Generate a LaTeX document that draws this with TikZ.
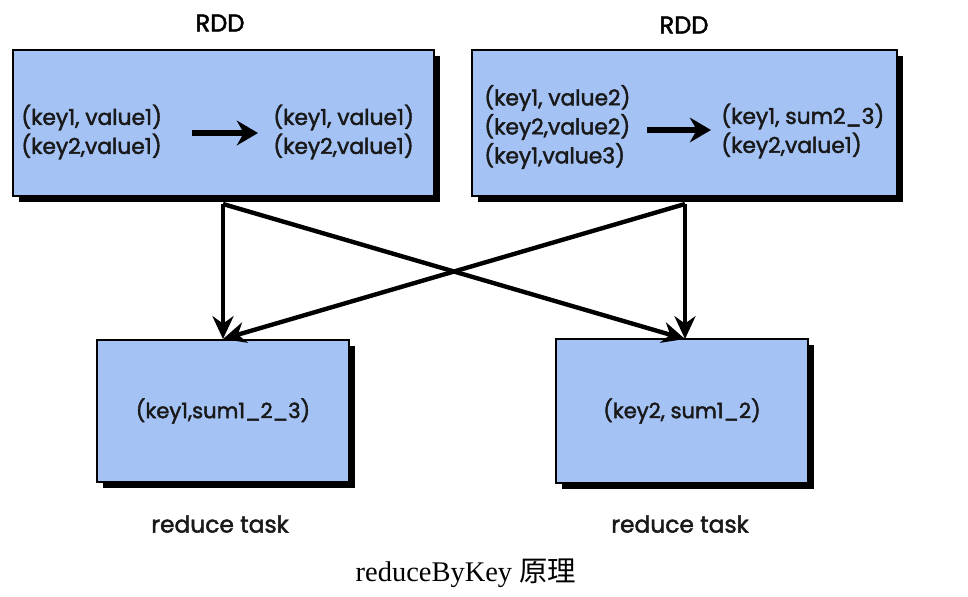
\documentclass[tikz,border=0pt]{standalone}
\usepackage{fontspec}
\setmainfont{Liberation Serif}
\newfontfamily\uifont[FakeBold=2]{Poppins}
\newfontfamily\cjkfont{Noto Sans CJK SC}
\usetikzlibrary{arrows.meta}
\definecolor{boxblue}{HTML}{A4C2F4}
\tikzset{
  box/.style={draw=black, line width=1.6pt, fill=boxblue, inner sep=0pt,
    preaction={fill=black, transform canvas={xshift=3.2pt, yshift=-3.2pt}}},
  lbl/.style={font=\uifont\fontsize{12.4}{16.5}\selectfont, align=left, inner sep=0pt, text=black!90},
  title/.style={font=\uifont\fontsize{13.8}{16}\selectfont, inner sep=0pt},
  flow/.style={line width=2.5pt, -{Stealth[length=13pt,width=12pt]}},
  conv/.style={line width=3pt, -{Stealth[length=12pt,width=14pt]}},
}
\begin{document}
\begin{tikzpicture}[x=0.02cm, y=-0.02cm]
\useasboundingbox (0,0) rectangle (968,596);
% boxes
\node[box, minimum width=421*0.02cm, minimum height=146*0.02cm] (b1) at (223.5,123) {};
\node[box, minimum width=425*0.02cm, minimum height=146*0.02cm] (b2) at (684.5,123) {};
\node[box, minimum width=252*0.02cm, minimum height=142*0.02cm] (r1) at (223,411) {};
\node[box, minimum width=252*0.02cm, minimum height=144*0.02cm] (r2) at (682,411) {};
% titles
\node[title] (t1) at (220,23) {RDD};
\node[title] (t2) at (684,25) {RDD};
% box 1 texts
\node[lbl, anchor=west] (a1) at (21,132) {(key1, value1)\\(key2,value1)};
\node[lbl, anchor=west] (a2) at (273,132) {(key1, value1)\\(key2,value1)};
% box 2 texts
\node[lbl, anchor=west] (c1) at (484,127) {(key1, value2)\\(key2,value2)\\(key1,value3)};
\node[lbl, anchor=west] (c2) at (721,131) {(key1, sum2\_3)\\(key2,value1)};
% inner arrows
\coordinate (p1) at (192,133);
\coordinate (p2) at (258,133);
\coordinate (q1) at (647,130);
\coordinate (q2) at (711,130);
\draw[conv] (p1) -- (p2);
\draw[conv] (q1) -- (q2);
% reduce texts
\node[lbl, font=\uifont\fontsize{12}{16}\selectfont] (s1) at (r1.center) {(key1,sum1\_2\_3)};
\node[lbl, font=\uifont\fontsize{12}{16}\selectfont] (s2) at (r2.center) {(key2, sum1\_2)};
\node[lbl, font=\uifont\fontsize{13.3}{16}\selectfont] (u1) at (220,524) {reduce task};
\node[lbl, font=\uifont\fontsize{13.3}{16}\selectfont] (u2) at (680,524) {reduce task};
% shuffle arrows
\coordinate (o1) at (223,204);
\coordinate (o2) at (685,204);
\coordinate (e1) at (223,339);
\coordinate (e2) at (685,339);
\draw[flow] (o1) -- (e1);
\draw[flow] (o2) -- (e2);
\draw[flow] (o1) -- (e2);
\draw[flow] (o2) -- (e1);
% caption
\node[inner sep=0pt, font=\fontsize{16.2}{19}\selectfont] (cap) at (466,573) {reduceByKey {\cjkfont 原理}};
\end{tikzpicture}
\end{document}
